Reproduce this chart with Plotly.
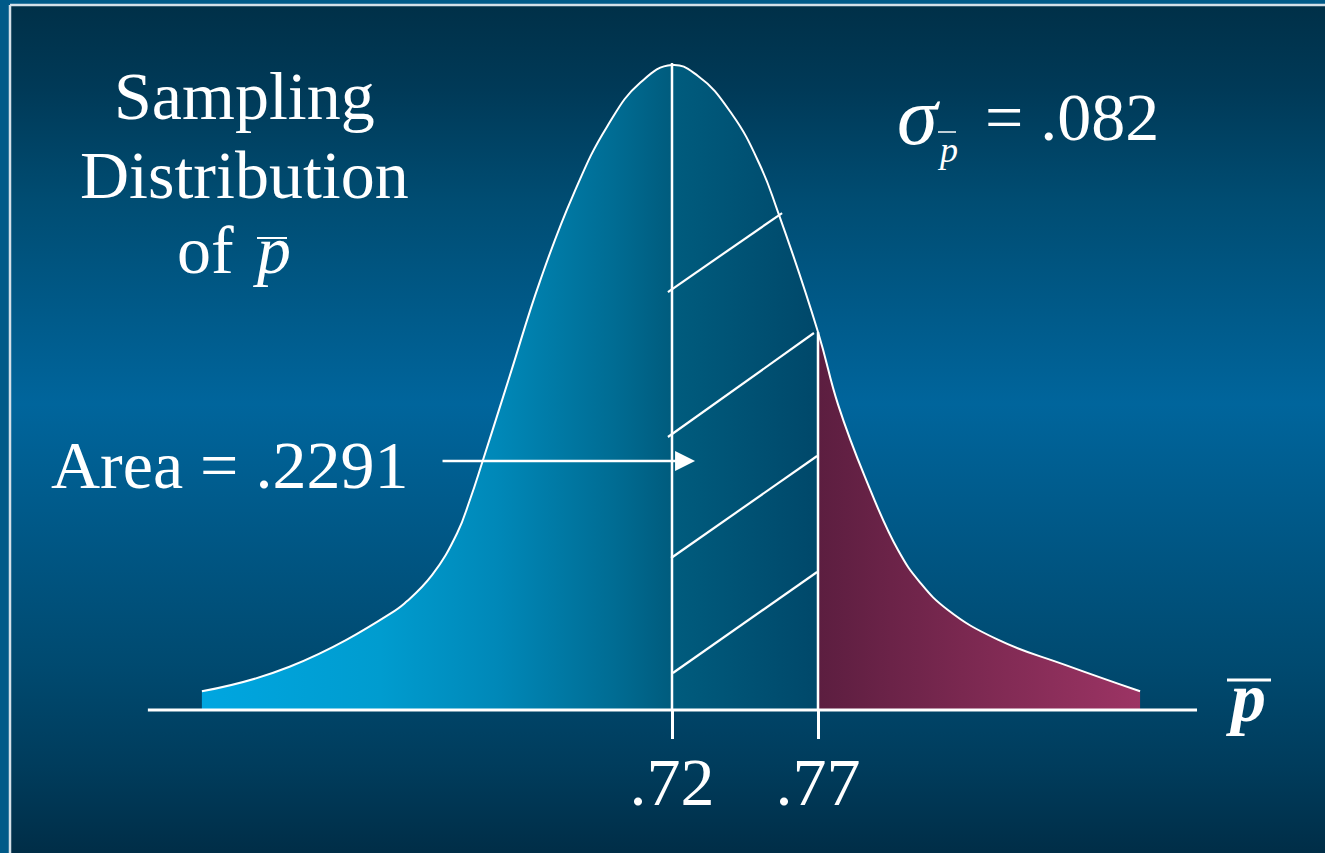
import numpy as np
import plotly.graph_objects as go

# ---- values -------------------------------------------------------------
P_MEAN = 0.72          # mean of the sampling distribution
P_CUT = 0.77           # value of interest
SIGMA_LABEL = ".082"   # standard error of p-bar
AREA_LABEL = ".2291"   # area between mean and cut-off

# sampled outline of the bell curve (p-bar value, relative height)
CURVE_P = [0.559, 0.589, 0.6234, 0.6293, 0.6378, 0.6464, 0.6508, 0.6553, 0.6645,
           0.6748, 0.6861, 0.6977, 0.709, 0.72, 0.7289, 0.7405, 0.7501,
           0.7563, 0.77, 0.7769, 0.7861, 0.7974, 0.8049, 0.8145, 0.8316, 0.8546,
           0.8803]
CURVE_H = [0.029, 0.067, 0.149, 0.169, 0.209, 0.274, 0.326, 0.388, 0.519,
           0.665, 0.798, 0.904, 0.972, 1.0, 0.983, 0.924, 0.845,
           0.772, 0.586, 0.473, 0.361, 0.248, 0.198, 0.155, 0.109, 0.070,
           0.029]

TICK_VALS = [P_MEAN, P_CUT]
TICK_TEXT = [".72", ".77"]

# hatch strokes inside the shaded region: (p0, h0, p1, h1)
HATCH = [(0.7186, 0.648, 0.7577, 0.7705),
         (0.7186, 0.4233, 0.7686, 0.5845),
         (0.7197, 0.2357, 0.7697, 0.3938),
         (0.7203, 0.0574, 0.7697, 0.2140)]

# ---- geometry -----------------------------------------------------------
W, H = 1325, 853
X_RANGE = [0.48986, 0.94363]
Y_RANGE = [-0.2217, 1.1008]
AXIS_SPAN = [0.5405, 0.8998]
AXIS_POS = 143 / H
SERIF = "Liberation Serif"

cp = np.array(CURVE_P)
ch = np.array(CURVE_H)
left = cp <= P_CUT + 1e-9
right = cp >= P_CUT - 1e-9
h_at = dict(zip(CURVE_P, CURVE_H))


def xd(frac):
    return X_RANGE[0] + frac * (X_RANGE[1] - X_RANGE[0])


def yd(frac):
    return Y_RANGE[0] + frac * (Y_RANGE[1] - Y_RANGE[0])


fig = go.Figure()

# slide panel with vertical blue gradient
bx0, bx1 = xd(11 / W), xd(1.01)
by0, by1 = yd(-0.01), yd(1 - 6 / H)
fig.add_trace(go.Scatter(
    x=[bx0, bx1, bx1, bx0, bx0], y=[by0, by0, by1, by1, by0],
    mode="lines", line=dict(width=0), fill="toself",
    fillgradient=dict(type="vertical", start=by0, stop=by1, colorscale=[
        [0.0, "#002c45"], [0.11, "#003c5c"], [0.23, "#004a70"],
        [0.535, "#00659c"], [0.77, "#004d73"], [0.90, "#003a58"],
        [1.0, "#003048"]]),
    hoverinfo="skip", showlegend=False))

SPLINE = dict(width=0, shape="spline", smoothing=1.3)

# area left of the cut-off
fig.add_trace(go.Scatter(
    x=cp[left], y=ch[left], mode="lines", line=SPLINE, fill="tozeroy",
    fillgradient=dict(type="horizontal", start=CURVE_P[0], stop=P_CUT, colorscale=[
        [0.0, "#00a6e0"], [0.29, "#009ccf"], [0.48, "#0088b8"],
        [0.67, "#006c93"], [0.76, "#005c7e"], [1.0, "#00486a"]]),
    hoverinfo="skip", showlegend=False))

# upper tail beyond the cut-off
fig.add_trace(go.Scatter(
    x=cp[right], y=ch[right], mode="lines", line=SPLINE, fill="tozeroy",
    fillgradient=dict(type="horizontal", start=P_CUT, stop=CURVE_P[-1], colorscale=[
        [0.0, "#5c1e40"], [0.45, "#7a2850"], [1.0, "#9c3464"]]),
    hoverinfo="skip", showlegend=False))

# white outline of the curve
fig.add_trace(go.Scatter(
    x=CURVE_P, y=CURVE_H, mode="lines",
    line=dict(color="white", width=2, shape="spline", smoothing=1.3),
    hoverinfo="skip", showlegend=False))

shapes = []
white = dict(color="white", width=2.5)
# horizontal axis
shapes.append(dict(type="line", xref="x", yref="y", x0=AXIS_SPAN[0], x1=AXIS_SPAN[1],
                   y0=0, y1=0, line=dict(color="white", width=3)))
# verticals at mean and cut-off
shapes.append(dict(type="line", xref="x", yref="y", x0=P_MEAN, x1=P_MEAN,
                   y0=0, y1=h_at[P_MEAN] + 0.003, line=white))
shapes.append(dict(type="line", xref="x", yref="y", x0=P_CUT, x1=P_CUT,
                   y0=0, y1=h_at[P_CUT], line=white))
for p0, h0, p1, h1 in HATCH:
    shapes.append(dict(type="line", xref="x", yref="y", x0=p0, y0=h0, x1=p1, y1=h1,
                       line=dict(color="white", width=2.2)))


def bar(px0, px1, py, width=2.5):
    return dict(type="line", xref="paper", yref="paper", x0=px0 / W, x1=px1 / W,
                y0=1 - py / H, y1=1 - py / H, line=dict(color="white", width=width))


# overlines over p
shapes.append(bar(257, 287, 238, 2))
shapes.append(bar(1227, 1271, 680, 3))
shapes.append(bar(938, 956, 132, 1.5))

# panel border
shapes.append(dict(type="line", xref="paper", yref="paper", x0=10 / W, x1=1.0,
                   y0=1 - 5 / H, y1=1 - 5 / H, line=dict(color="#d4e0e8", width=2.5)))
shapes.append(dict(type="line", xref="paper", yref="paper", x0=10 / W, x1=10 / W,
                   y0=0, y1=1 - 5 / H, line=dict(color="#d4e0e8", width=2.5)))


def label(text, px, py, size=68, xanchor="center", italic=False):
    return dict(xref="paper", yref="paper", x=px / W, y=1 - py / H, text=text,
                showarrow=False, xanchor=xanchor, yanchor="middle",
                font=dict(family=SERIF, size=size, color="white",
                          style="italic" if italic else "normal"))


annotations = [
    label("Sampling", 244, 96),
    label("Distribution", 245, 175),
    label("of", 236, 250, xanchor="right"),
    label("p", 272, 250, italic=True),
    label("Area = " + AREA_LABEL, 229, 465),
    label("σ", 919, 116, size=82, italic=True),
    label("p", 947, 150, size=36, italic=True),
    label("= " + SIGMA_LABEL, 983, 117, xanchor="left"),
    dict(xref="paper", yref="paper", x=1246 / W, y=1 - 697 / H, text="<b>p</b>",
         showarrow=False, xanchor="center", yanchor="middle",
         font=dict(family=SERIF, size=70, color="white", style="italic")),
    # arrow pointing into the shaded area
    dict(xref="x", yref="y", axref="x", ayref="y", x=0.7279, y=0.386,
         ax=0.6409, ay=0.386, text="", showarrow=True, arrowhead=2,
         arrowsize=1.6, arrowwidth=2.5, arrowcolor="white"),
]

fig.update_layout(
    width=W, height=H, autosize=False,
    margin=dict(l=0, r=0, t=0, b=0, pad=0),
    paper_bgcolor="#005a88", plot_bgcolor="rgba(0,0,0,0)",
    showlegend=False, shapes=shapes, annotations=annotations,
    xaxis=dict(range=X_RANGE, domain=[0, 1], anchor="free", position=AXIS_POS,
               showgrid=False, zeroline=False, showline=False,
               tickmode="array", tickvals=TICK_VALS, ticktext=TICK_TEXT,
               ticks="outside", ticklen=28, tickwidth=3, tickcolor="white",
               ticklabelstandoff=-16,
               tickfont=dict(family=SERIF, size=68, color="white"),
               fixedrange=True),
    yaxis=dict(range=Y_RANGE, domain=[0, 1], visible=False, fixedrange=True),
)

fig.write_html("out.html")
